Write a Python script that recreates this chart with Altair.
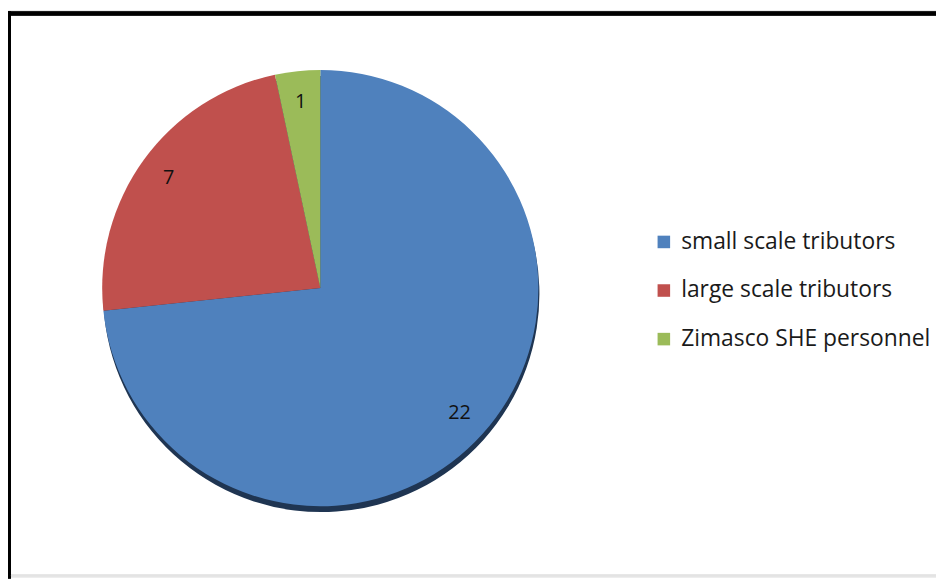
import altair as alt
import pandas as pd

categories = ["small scale tributors", "large scale tributors", "Zimasco SHE personnel"]
values = [22, 7, 1]
colors = ["#4F81BD", "#C0504D", "#9BBB59"]
order = [0, 1, 2]

df = pd.DataFrame({"category": categories, "value": values, "order": order})

W, H = 936, 571
CX, CY = 315, 280
R = 220

color_scale = alt.Scale(domain=categories, range=colors)

base = alt.Chart(df)

shadow = base.mark_arc(radius=R, color="#1F3552").encode(
    theta=alt.Theta("value:Q", stack=True),
    order=alt.Order("order:Q"),
    x=alt.value(CX + 1),
    y=alt.value(CY + 6),
)

pie = base.mark_arc(radius=R).encode(
    theta=alt.Theta("value:Q", stack=True),
    color=alt.Color(
        "category:N",
        scale=color_scale,
        sort=categories,
        legend=alt.Legend(
            title=None,
            orient="none",
            legendX=650,
            legendY=222,
            symbolType="square",
            symbolSize=160,
            symbolStrokeWidth=0,
            labelFontSize=23,
            labelFont="Open Sans",
            labelColor="#1a1a1a",
            labelOffset=6,
            rowPadding=25,
            padding=0,
            labelLimit=400,
        ),
    ),
    order=alt.Order("order:Q"),
    x=alt.value(CX),
    y=alt.value(CY),
)

labels = base.mark_text(radius=189, fontSize=20, font="Open Sans", color="#111111").encode(
    theta=alt.Theta("value:Q", stack=True),
    text=alt.Text("value:Q"),
    order=alt.Order("order:Q"),
    x=alt.value(CX),
    y=alt.value(CY),
)

top_border = alt.Chart(df).mark_rule(color="black", strokeWidth=4).encode(
    x=alt.value(-2), x2=alt.value(W + 2), y=alt.value(3)
)
left_border = alt.Chart(df).mark_rule(color="black", strokeWidth=4).encode(
    x=alt.value(1), y=alt.value(1), y2=alt.value(H + 2)
)
bottom_line = alt.Chart(df).mark_rule(color="#e3e3e3", strokeWidth=2).encode(
    x=alt.value(3), x2=alt.value(W + 2), y=alt.value(H - 1)
)

chart = alt.layer(shadow, pie, labels, top_border, left_border, bottom_line).properties(
    width=W,
    height=H,
    autosize=alt.AutoSizeParams(type="none"),
    padding=0,
).configure_view(stroke=None).configure(background="white")

chart.save("out.html", embed_options={"renderer": "svg", "actions": False})
